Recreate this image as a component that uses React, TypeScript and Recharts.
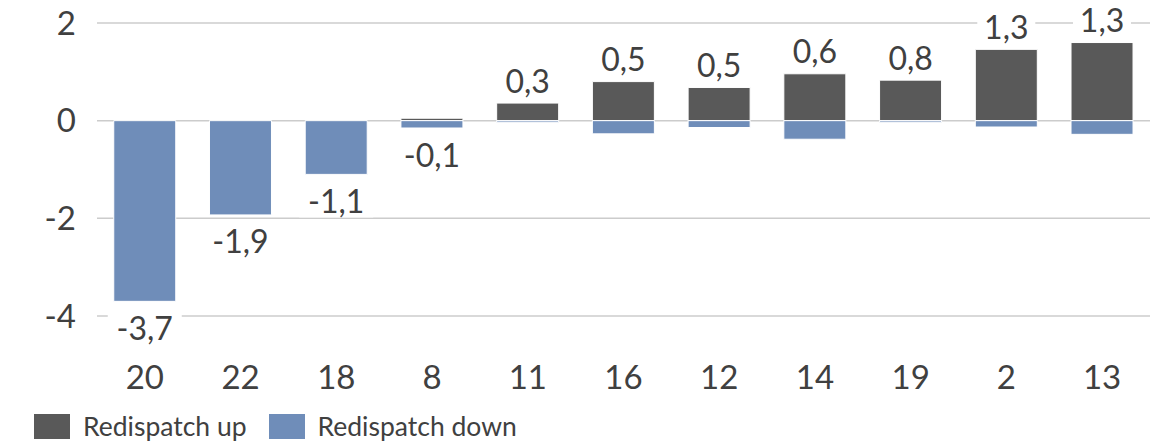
import * as React from 'react';
import {
    Bar,
    BarChart,
    CartesianGrid,
    LabelList,
    Legend,
    XAxis,
    YAxis,
} from 'recharts';

const categories = ['20', '22', '18', '8', '11', '16', '12', '14', '19', '2', '13'];
const redispatchUp = [0, 0, 0, 0.05, 0.36, 0.8, 0.68, 0.96, 0.83, 1.46, 1.6];
const redispatchDown = [-3.7, -1.93, -1.1, -0.15, -0.03, -0.27, -0.14, -0.38, -0.03, -0.13, -0.28];
const netLabels = [-3.7, -1.9, -1.1, -0.1, 0.3, 0.5, 0.5, 0.6, 0.8, 1.3, 1.3];
const yTicks = [-4, -2, 0, 2];

const UP_COLOR = '#595959';
const DOWN_COLOR = '#6f8db9';
const TEXT_COLOR = '#404040';
const FONT = 'Lato, "Open Sans", sans-serif';
const FONT_SIZE = 33;
const LABEL_SIZE = 32;

const data = categories.map((c, i) => ({
    name: c,
    up: redispatchUp[i],
    down: redispatchDown[i],
    net: netLabels[i],
}));

const fmt = (v: number) => v.toFixed(1).replace('.', ',');

// net label sits above the up bar when positive, below the down bar when negative
function makeLabel(positive: boolean) {
    return (props: any) => {
        const net = Number(props.value);
        if (Number.isNaN(net)) return null;
        if (positive ? net < 0 : net >= 0) return null;
        const vb = props.viewBox || props;
        const x = Number(vb.x ?? props.x);
        const y = Number(vb.y ?? props.y);
        const w = Number(vb.width ?? props.width);
        const h = Number(vb.height ?? props.height);
        const top = Math.min(y, y + h);
        const bottom = Math.max(y, y + h);
        const cx = x + w / 2;
        const cy = positive ? top - 22 : bottom + 27;
        const text = fmt(net);
        const tw = text.length * LABEL_SIZE * 0.5 + 10;
        return (
            <g>
                <rect x={cx - tw / 2} y={cy - 16} width={tw} height={32} fill="#fff" />
                <text
                    x={cx}
                    y={cy}
                    dy="0.36em"
                    textAnchor="middle"
                    fontSize={LABEL_SIZE}
                    fontFamily={FONT}
                    fill={TEXT_COLOR}
                >
                    {text}
                </text>
            </g>
        );
    };
}

function LegendContent() {
    const items = [
        { label: 'Redispatch up', color: UP_COLOR },
        { label: 'Redispatch down', color: DOWN_COLOR },
    ];
    return (
        <div style={{ display: 'flex', alignItems: 'center', height: 38, paddingLeft: 34 }}>
            {items.map((it) => (
                <div key={it.label} style={{ display: 'flex', alignItems: 'center', marginRight: 22, marginTop: 7 }}>
                    <span style={{ width: 36, height: 25, background: it.color, display: 'inline-block', marginRight: 13 }} />
                    <span style={{ fontFamily: FONT, fontSize: 26.5, color: TEXT_COLOR, lineHeight: '25px' }}>{it.label}</span>
                </div>
            ))}
        </div>
    );
}

export default function App() {
    return (
        <div style={{ position: 'absolute', left: 0, top: 0, width: 1161, height: 442, background: '#fff' }}>
            <BarChart
                width={1161}
                height={442}
                data={data}
                stackOffset="sign"
                barCategoryGap="17.5%"
                margin={{ top: 23, right: 11, left: 0, bottom: 0 }}
            >
                <CartesianGrid vertical={false} stroke="#cccccc" strokeWidth={1.5} />
                <XAxis
                    dataKey="name"
                    axisLine={false}
                    tickLine={false}
                    tickSize={0}
                    tickMargin={50}
                    height={88}
                    interval={0}
                    tick={{ fontSize: FONT_SIZE, fontFamily: FONT, fill: TEXT_COLOR }}
                />
                <YAxis
                    domain={[-4, 2]}
                    ticks={yTicks}
                    axisLine={false}
                    tickLine={false}
                    tickSize={0}
                    tickMargin={21}
                    width={97}
                    tick={{ fontSize: FONT_SIZE, fontFamily: FONT, fill: TEXT_COLOR }}
                />
                <Legend verticalAlign="bottom" align="left" height={38} content={() => <LegendContent />} />
                <Bar dataKey="up" name="Redispatch up" stackId="a" fill={UP_COLOR} stroke="#fff" strokeWidth={1} isAnimationActive={false}>
                    <LabelList dataKey="net" content={makeLabel(true)} />
                </Bar>
                <Bar dataKey="down" name="Redispatch down" stackId="a" fill={DOWN_COLOR} stroke="#fff" strokeWidth={1} isAnimationActive={false}>
                    <LabelList dataKey="net" content={makeLabel(false)} />
                </Bar>
            </BarChart>
        </div>
    );
}
